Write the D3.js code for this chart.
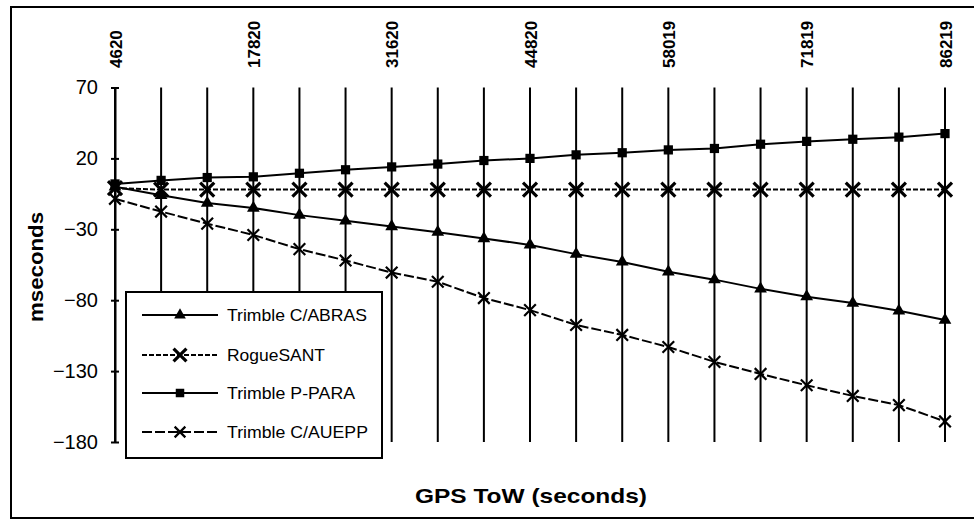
<!DOCTYPE html>
<html>
<head>
<meta charset="utf-8">
<script src="https://cdn.jsdelivr.net/npm/d3@7"></script>
<style>
  html, body { margin: 0; padding: 0; background: #fff; }
  svg { display: block; }
  text { font-family: "Liberation Sans", Arial, sans-serif; fill: #000; }
</style>
</head>
<body>
<svg id="chart" width="974" height="521"></svg>
<script>
// ---- data ----
const gpsTow = [4620, 9020, 13420, 17820, 22420, 27020, 31620, 36020, 40420, 44820,
                49219, 53619, 58019, 62619, 67219, 71819, 76619, 81419, 86219];
const labeledTow = [4620, 17820, 31620, 44820, 58019, 71819, 86219];
const yTicks = [70, 20, -30, -80, -130, -180];

const trimbleCABRAS = [0, -6, -11.5, -15, -20, -24, -28, -32, -36.5, -41,
                       -47.5, -53, -60, -65.5, -72, -77.5, -82, -87.5, -94];
const rogueSANT     = [-1, -2, -2, -2, -2, -2, -2, -2, -2, -2,
                       -2, -2, -2, -2, -2, -2, -2, -2, -2];
const trimblePPARA  = [2, 4.5, 6.5, 7, 9.5, 12, 14, 16, 18.5, 20,
                       22.5, 24, 26, 27, 30, 32, 33.5, 35, 37.5];
const trimbleCAUEPP = [-8.5, -17.5, -26, -34, -44, -52, -60.5, -67, -78.5, -87,
                       -97.5, -104.5, -113, -123.5, -132, -140, -147.5, -154, -165.5];

const seriesNames = ["Trimble C/ABRAS", "RogueSANT", "Trimble P-PARA", "Trimble C/AUEPP"];
const seriesValues = [trimbleCABRAS, rogueSANT, trimblePPARA, trimbleCAUEPP];

// ---- styles ----
const styles = [
  { dash: null,   symbol: d3.symbolTriangle, size: 70,  fill: "#000", stroke: "none", sw: 0 },
  { dash: "5,2",  symbol: d3.symbolTimes,    size: 130, fill: "none", stroke: "#000", sw: 3.2 },
  { dash: null,   symbol: d3.symbolSquare,   size: 85,  fill: "#000", stroke: "none", sw: 0 },
  { dash: "10,3", symbol: d3.symbolTimes,    size: 90,  fill: "none", stroke: "#000", sw: 2.2 }
];
const legendTextLen = [140, 98, 128, 141];

const svg = d3.select("#chart");

// outer frame
svg.append("rect").attr("x", 11).attr("y", 7).attr("width", 975).attr("height", 511)
  .attr("fill", "none").attr("stroke", "#000").attr("stroke-width", 2);

const x = d3.scalePoint().domain(gpsTow).range([115, 945]);
const y = d3.scaleLinear().domain([-180, 70]).range([442, 87.5]);

// vertical grid lines
svg.append("g").selectAll("line").data(gpsTow).join("line")
  .attr("x1", d => x(d)).attr("x2", d => x(d))
  .attr("y1", y(70)).attr("y2", y(-180))
  .attr("stroke", "#000").attr("stroke-width", 2);

// y axis
const yAxis = svg.append("g").attr("transform", `translate(${x(gpsTow[0])},0)`)
  .call(d3.axisLeft(y).tickValues(yTicks).tickSize(0).tickSizeOuter(0).tickPadding(17));
yAxis.select(".domain").attr("stroke", "#000").attr("stroke-width", 2);
yAxis.selectAll(".tick").append("line").attr("x1", -4).attr("x2", 4)
  .attr("stroke", "#000").attr("stroke-width", 2);
yAxis.selectAll(".tick text").style("font-size", "20px")
  .style("font-family", "Liberation Sans, Arial, sans-serif").attr("fill", "#000");

// x axis on top (rotated labels)
const xAxis = svg.append("g").attr("transform", "translate(0,68)")
  .call(d3.axisTop(x).tickValues(labeledTow).tickSize(0).tickSizeOuter(0));
xAxis.select(".domain").remove();
xAxis.selectAll(".tick text")
  .attr("transform", "rotate(-90)")
  .attr("x", 0).attr("y", 0).attr("dy", "0.36em")
  .attr("text-anchor", "start")
  .style("font-size", "17px").style("font-weight", "bold")
  .style("font-family", "Liberation Sans, Arial, sans-serif").attr("fill", "#000");

// series lines + markers
const line = d3.line().x((d, i) => x(gpsTow[i])).y(d => y(d));
seriesValues.forEach((vals, s) => {
  const st = styles[s];
  svg.append("path").datum(vals).attr("d", line)
    .attr("fill", "none").attr("stroke", "#000").attr("stroke-width", 2)
    .attr("stroke-dasharray", st.dash);
  svg.append("g").selectAll("path").data(vals).join("path")
    .attr("transform", (d, i) => `translate(${x(gpsTow[i])},${y(d)})`)
    .attr("d", d3.symbol().type(st.symbol).size(st.size))
    .attr("fill", st.fill).attr("stroke", st.stroke).attr("stroke-width", st.sw);
});

// legend
const lg = svg.append("g");
lg.append("rect").attr("x", 126).attr("y", 292).attr("width", 256).attr("height", 166)
  .attr("fill", "#fff").attr("stroke", "#000").attr("stroke-width", 2);
const rowY = [315, 355, 393, 432];
seriesNames.forEach((name, s) => {
  const st = styles[s];
  const g = lg.append("g").attr("transform", `translate(0,${rowY[s]})`);
  g.append("line").attr("x1", 142).attr("x2", 218).attr("y1", 0).attr("y2", 0)
    .attr("stroke", "#000").attr("stroke-width", 2).attr("stroke-dasharray", st.dash);
  g.append("path").attr("transform", "translate(180,0)")
    .attr("d", d3.symbol().type(st.symbol).size(st.size * 0.85))
    .attr("fill", st.fill).attr("stroke", st.stroke).attr("stroke-width", st.sw);
  g.append("text").attr("x", 227).attr("y", 0).attr("dy", "0.36em")
    .attr("textLength", legendTextLen[s]).attr("lengthAdjust", "spacingAndGlyphs")
    .style("font-size", "17px").text(name);
});

// axis titles
svg.append("text").attr("transform", "translate(43,267) rotate(-90)")
  .attr("text-anchor", "middle").attr("textLength", 110).attr("lengthAdjust", "spacingAndGlyphs")
  .style("font-size", "21px").style("font-weight", "bold").text("mseconds");
svg.append("text").attr("x", 415).attr("y", 503)
  .attr("textLength", 232).attr("lengthAdjust", "spacingAndGlyphs")
  .style("font-size", "21px").style("font-weight", "bold").text("GPS ToW  (seconds)");
</script>
</body>
</html>
